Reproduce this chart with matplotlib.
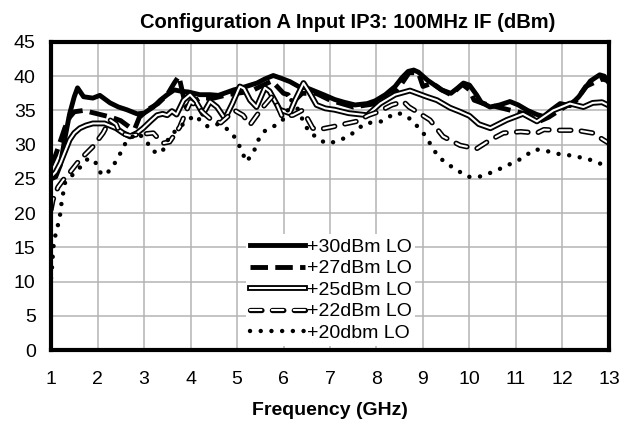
import matplotlib
matplotlib.use('Agg')
import matplotlib.pyplot as plt
import matplotlib.patheffects as pe

plt.rcParams['font.family'] = ['Liberation Sans', 'DejaVu Sans']

# +30dBm LO
f30 = [1.0, 1.1, 1.2, 1.3, 1.4, 1.5, 1.57, 1.7, 1.9, 2.05, 2.27, 2.45, 2.63, 2.85, 3.0,
       3.2, 3.35, 3.5, 3.65, 3.8, 3.95, 4.2, 4.42, 4.6, 4.93, 5.1, 5.43, 5.6, 5.78, 5.95,
       6.14, 6.35, 6.5, 6.86, 7.1, 7.3, 7.54, 7.8, 7.97, 8.19, 8.4, 8.55, 8.68, 8.8, 8.9,
       9.1, 9.25, 9.4, 9.6, 9.75, 9.87, 10.0, 10.15, 10.25, 10.44, 10.65, 10.87, 11.05,
       11.25, 11.45, 11.6, 11.75, 11.95, 12.16, 12.35, 12.6, 12.8, 12.9, 13.0]
v30 = [25.0, 25.3, 27.0, 31.0, 34.5, 37.0, 38.3, 37.0, 36.8, 37.2, 36.1, 35.5, 35.1, 34.5, 34.6,
       35.5, 36.5, 37.3, 38.0, 37.8, 37.7, 37.3, 37.3, 37.2, 38.0, 38.3, 39.0, 39.6, 40.1, 39.7,
       39.2, 38.4, 38.3, 37.3, 36.6, 36.2, 35.8, 36.0, 36.4, 37.3, 38.5, 39.8, 40.7, 40.9, 40.6,
       39.4, 38.7, 38.0, 37.5, 38.3, 39.0, 38.7, 37.3, 36.2, 35.5, 35.8, 36.3, 35.8,
       35.0, 34.4, 34.1, 35.0, 36.0, 35.7, 37.0, 39.3, 40.2, 40.0, 39.0]

# +27dBm LO
f27 = [1.0, 1.1, 1.2, 1.3, 1.4, 1.5, 1.7, 2.0, 2.3, 2.5, 2.7, 2.8, 2.9, 3.1, 3.3, 3.5,
       3.65, 3.75, 3.8, 3.9, 4.0, 4.2, 4.5, 4.8, 5.0, 5.3, 5.5, 5.75, 6.0, 6.1, 6.2, 6.4,
       6.7, 7.0, 7.5, 8.0, 8.3, 8.5, 8.7, 8.9, 9.0, 9.2, 9.4, 9.6, 9.85, 10.0, 10.1, 10.3,
       10.6, 10.9, 11.2, 11.5, 11.7, 12.0, 12.3, 12.5, 12.85, 13.0]
v27 = [27.0, 28.5, 30.5, 32.5, 34.0, 34.8, 35.0, 34.5, 34.0, 33.5, 32.5, 32.3, 34.0, 35.2, 36.0, 37.3,
       39.0, 40.0, 38.5, 35.5, 36.0, 36.8, 36.8, 37.3, 37.5, 37.8, 38.5, 39.3, 37.5, 37.3, 36.2, 37.5,
       37.5, 36.5, 35.5, 36.0, 37.0, 38.5, 40.5, 40.5, 38.5, 39.0, 38.0, 37.3, 38.8, 38.0, 36.5, 36.0,
       35.5, 35.0, 34.5, 33.4, 34.0, 35.3, 36.5, 38.5, 39.6, 39.3]

# +25dBm LO
f25 = [1.0, 1.1, 1.2, 1.3, 1.4, 1.5, 1.62, 1.75, 1.9, 2.15, 2.4, 2.55, 2.7, 2.85, 2.98,
       3.15, 3.28, 3.4, 3.5, 3.6, 3.7, 3.85, 3.99, 4.1, 4.27, 4.42, 4.57, 4.74, 4.9, 5.06,
       5.15, 5.28, 5.42, 5.6, 5.7, 5.92, 6.13, 6.25, 6.43, 6.57, 6.71, 6.9, 7.1, 7.4, 7.8,
       8.08, 8.4, 8.72, 9.08, 9.3, 9.58, 9.8, 10.0, 10.2, 10.45, 10.8, 11.15, 11.45, 11.8,
       12.16, 12.45, 12.65, 12.85, 13.0]
v25 = [25.3, 26.0, 27.3, 29.0, 30.7, 31.7, 32.4, 32.8, 33.1, 33.1, 32.4, 31.7, 31.2, 31.7, 32.4,
       33.5, 34.3, 34.5, 34.3, 34.9, 34.4, 36.5, 37.3, 36.5, 34.5, 36.3, 35.5, 33.8, 36.0, 38.5,
       38.2, 36.5, 35.5, 38.3, 37.8, 35.1, 34.6, 36.5, 39.0, 37.5, 35.8, 35.3, 35.1, 34.6, 34.3,
       36.0, 37.3, 37.9, 37.0, 36.5, 35.4, 34.8, 34.2, 33.0, 32.4, 33.6, 34.5, 33.4, 35.0,
       36.0, 35.5, 36.1, 36.2, 35.7]

# +22dBm LO
f22 = [1.0, 1.04, 1.15, 1.28, 1.4, 1.62, 1.9, 2.12, 2.27, 2.4, 2.48, 2.7, 2.9, 3.2, 3.4,
       3.55, 3.77, 3.92, 4.0, 4.15, 4.3, 4.49, 4.65, 4.8, 4.95, 5.13, 5.28, 5.45, 5.56, 5.75,
       5.85, 5.97, 6.2, 6.4, 6.5, 6.63, 6.75, 7.05, 7.3, 7.57, 7.83, 8.04, 8.33, 8.58, 8.7,
       8.87, 9.15, 9.43, 9.8, 10.15, 10.45, 10.73, 11.1, 11.45, 11.6, 11.9, 12.3, 12.65,
       12.88, 13.0]
v22 = [20.5, 21.9, 23.8, 25.0, 25.9, 27.8, 29.7, 31.7, 33.6, 33.0, 31.7, 31.3, 31.5, 31.7, 30.2,
       30.4, 32.6, 35.1, 36.3, 35.5, 34.5, 33.4, 33.2, 34.1, 35.0, 34.3, 32.9, 34.5, 35.5, 37.0,
       36.0, 34.1, 34.3, 35.0, 34.0, 32.4, 32.2, 32.6, 33.0, 33.4, 34.3, 34.8, 35.8, 36.3, 35.5,
       34.8, 33.6, 31.2, 29.9, 29.4, 30.7, 31.7, 31.9, 31.7, 32.2, 32.1, 32.1, 31.7,
       30.7, 30.2]

# +20dbm LO
f20 = [1.0, 1.02, 1.05, 1.1, 1.14, 1.19, 1.23, 1.3, 1.45, 1.6, 1.8, 1.95, 2.05, 2.15, 2.3,
       2.45, 2.6, 2.84, 3.0, 3.2, 3.38, 3.55, 3.77, 3.95, 4.1, 4.2, 4.38, 4.57, 4.75, 4.92,
       5.06, 5.2, 5.35, 5.46, 5.6, 5.85, 6.03, 6.17, 6.3, 6.46, 6.57, 6.74, 6.9, 7.11, 7.4,
       7.75, 8.11, 8.4, 8.55, 8.76, 9.04, 9.33, 9.65, 9.97, 10.2, 10.35, 10.7, 11.1, 11.4,
       11.6, 11.85, 12.2, 12.55, 12.9, 13.0]
v20 = [10.5, 12.0, 15.0, 17.0, 18.0, 19.5, 21.7, 24.4, 25.5, 26.5, 28.0, 27.5, 26.0, 25.5, 26.5,
       28.2, 30.2, 31.7, 31.0, 29.0, 28.8, 31.2, 32.6, 33.6, 34.3, 33.6, 32.6, 33.0, 32.5, 31.4,
       29.7, 27.5, 28.8, 30.7, 32.0, 32.9, 33.9, 36.5, 35.3, 32.9, 31.7, 31.0, 30.2, 30.4, 31.2,
       33.1, 33.4, 34.6, 34.5, 33.6, 31.4, 28.2, 26.6, 25.3, 25.3, 25.6, 26.6, 27.9, 29.3,
       29.2, 28.7, 28.4, 27.9, 27.0, 26.8]

labels = ['+30dBm LO', '+27dBm LO', '+25dBm LO', '+22dBm LO', '+20dbm LO']

fig = plt.figure(figsize=(6.23, 4.24), dpi=100)
ax = fig.add_axes([0.0819, 0.1745, 0.8956, 0.7265])

ax.plot(f30, v30, color='black', lw=3.5, solid_joinstyle='round', label=labels[0])
ax.plot(f27, v27, color='black', lw=3.5, dashes=(3.6, 1.5), label=labels[1])
ax.plot(f25, v25, color='white', lw=1.5, solid_joinstyle='round', label=labels[2],
        path_effects=[pe.Stroke(linewidth=4.2, foreground='black'), pe.Normal()])
ax.plot(f22, v22, color='white', lw=1.5, dashes=(5.5, 5), dash_capstyle='round', label=labels[3],
        path_effects=[pe.Stroke(linewidth=3.8, foreground='black'), pe.Normal()])
ax.plot(f20, v20, color='black', lw=3.2, dashes=(0.01, 2.4), dash_capstyle='round', label=labels[4])

ax.set_xlim(1, 13)
ax.set_ylim(0, 45)
ax.set_xticks(range(1, 14))
ax.set_yticks(range(0, 46, 5))
ax.grid(True, color='#b4b4b4', lw=1.1)
ax.set_axisbelow(True)
ax.tick_params(axis='both', length=0, labelsize=14)
ax.tick_params(axis='x', pad=15)
ax.tick_params(axis='y', pad=11)
for s in ax.spines.values():
    s.set_linewidth(3)
    s.set_color('black')

ax.set_title('Configuration A Input IP3: 100MHz IF (dBm)', fontsize=14.5, fontweight='bold',
             pad=10, x=0.532)
ax.set_xlabel('Frequency (GHz)', fontsize=14, fontweight='bold', labelpad=10)

leg = ax.legend(loc='lower left', bbox_to_anchor=(0.35, 0.014), borderaxespad=0, fontsize=14,
                frameon=True, fancybox=False, edgecolor='none', facecolor='white', framealpha=1,
                handlelength=2.8, handletextpad=0.1, labelspacing=0.2, borderpad=0.2)

fig.savefig('out.png', dpi=100)
